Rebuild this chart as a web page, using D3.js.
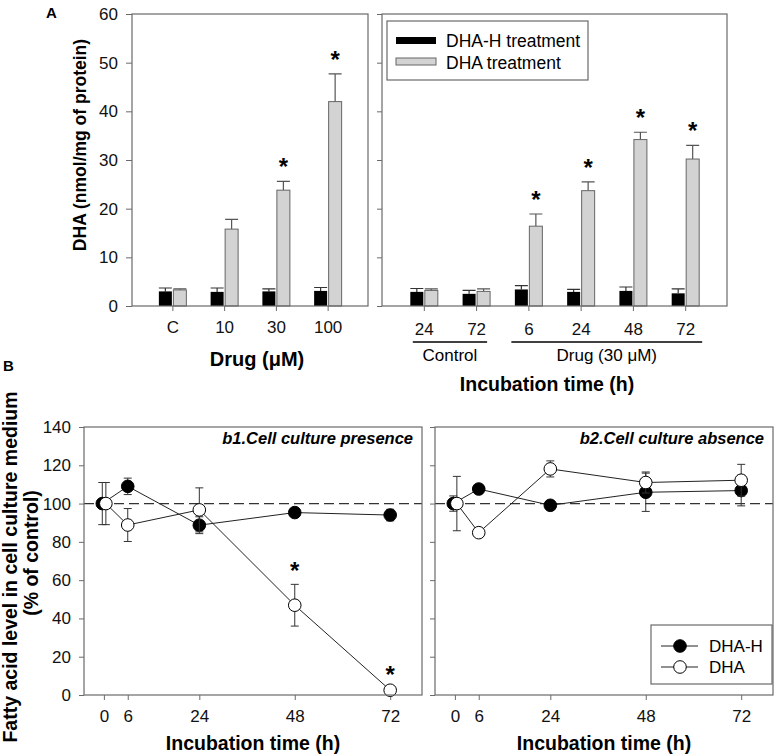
<!DOCTYPE html>
<html>
<head>
<meta charset="utf-8">
<script src="https://cdn.jsdelivr.net/npm/d3@7"></script>
<style>
  body { margin: 0; background: #fff; }
  text { font-family: "Liberation Sans", Arial, sans-serif; }
</style>
</head>
<body>
<div id="chart"></div>
<script>
// panel A, left: dose
const doseLabels = ["C", "10", "30", "100"];
const doseDHAH = [3.0, 2.9, 3.0, 3.1];
const doseDHAHErr = [0.7, 0.8, 0.5, 0.7];
const doseDHA = [3.3, 15.8, 23.8, 42.0];
const doseDHAErr = [0.2, 2.0, 1.8, 5.7];
const doseStar = [false, false, true, true];

// panel A, right: incubation time
const timeLabels = ["24", "72", "6", "24", "48", "72"];
const timeDHAH = [2.9, 2.5, 3.4, 2.9, 3.1, 2.6];
const timeDHAHErr = [0.7, 0.7, 0.8, 0.5, 0.8, 0.9];
const timeDHA = [3.2, 3.0, 16.4, 23.7, 34.2, 30.2];
const timeDHAErr = [0.3, 0.5, 2.5, 1.8, 1.5, 2.8];
const timeStar = [false, false, true, true, true, true];
const timeGroups = [
  { label: "Control", from: 0, to: 1 },
  { label: "Drug (30 \u03bcM)", from: 2, to: 5 }
];

// panel B
const hours = [0, 6, 24, 48, 72];
const hoursDHAH = [-0.4, 6, 24, 48, 72];   // points at 0 h are drawn slightly apart
const hoursDHA = [0.5, 6, 24, 48, 72];
const b1DHAH = [100, 109.0, 88.7, 95.3, 94.0];
const b1DHAHErr = [11, 4.3, 4.4, 1.2, 3.0];
const b1DHA = [100, 88.8, 96.7, 46.9, 2.5];
const b1DHAErr = [11, 8.6, 11.5, 10.9, 1.0];
const b1Star = [false, false, false, true, true];
const b2DHAH = [100, 107.6, 99.1, 105.9, 106.8];
const b2DHAHErr = [4, 1, 1, 10, 8];
const b2DHA = [100, 84.8, 118.1, 111.0, 112.2];
const b2DHAErr = [14.2, 1, 4.2, 5.5, 8.3];
const b2Star = [false, false, false, false, false];

const w = 777, h = 755;
const frameColor = "#6a6a6a";

const svg = d3.select("#chart").append("svg")
  .attr("width", w).attr("height", h);

const styleAxis = (g, size) => {
  g.select(".domain").remove();
  g.selectAll(".tick line").attr("stroke", frameColor);
  g.selectAll(".tick text").attr("font-size", size)
    .attr("font-family", "'Liberation Sans', Arial, sans-serif").attr("fill", "#111");
};

const frame = (x0, x1, y0, y1) => {
  svg.append("rect").attr("x", x0).attr("y", y0)
    .attr("width", x1 - x0).attr("height", y1 - y0)
    .attr("fill", "none").attr("stroke", frameColor).attr("stroke-width", 1.2);
};

// ---------- panel A ----------
const aTop = 14, aBottom = 306;
const yA = d3.scaleLinear().domain([0, 60]).range([aBottom, aTop]);
const bw = 13;

const drawBars = (x, n, dhah, dhahErr, dha, dhaErr, star) => {
  const idx = d3.range(n);
  const g = svg.append("g");
  // error bars (upward only)
  const err = (vals, errs, dx, col) => {
    g.selectAll(null).data(idx).enter().append("path")
      .attr("d", i => {
        const cx = x(i) + dx, yt = yA(vals[i] + errs[i]);
        return `M${cx},${yA(vals[i])}V${yt}M${cx - bw / 2},${yt}H${cx + bw / 2}`;
      })
      .attr("stroke", col).attr("stroke-width", 1.2).attr("fill", "none");
  };
  err(dhah, dhahErr, -7, "#333");
  err(dha, dhaErr, 7.5, "#555");
  g.selectAll(null).data(idx).enter().append("rect")
    .attr("x", i => x(i) - 13.5).attr("width", bw)
    .attr("y", i => yA(dhah[i])).attr("height", i => yA(0) - yA(dhah[i]))
    .attr("fill", "#000");
  g.selectAll(null).data(idx).enter().append("rect")
    .attr("x", i => x(i) + 1).attr("width", bw)
    .attr("y", i => yA(dha[i])).attr("height", i => yA(0) - yA(dha[i]))
    .attr("fill", "#d3d3d3").attr("stroke", "#666").attr("stroke-width", 1);
  g.selectAll(null).data(idx.filter(i => star[i])).enter().append("text")
    .attr("x", i => x(i) + 7.5).attr("y", i => yA(dha[i] + dhaErr[i]) - 6)
    .attr("text-anchor", "middle").attr("font-size", 24).attr("font-weight", "bold")
    .text("*");
};

// left
const xDose = d3.scalePoint().domain(d3.range(doseLabels.length)).range([132, 368]).padding(0.78);
svg.append("g").attr("transform", `translate(132,0)`)
  .call(d3.axisLeft(yA).tickValues(d3.range(0, 61, 10)).tickSize(6).tickPadding(8))
  .call(g => styleAxis(g, 17));
svg.append("g").attr("transform", `translate(0,${aBottom})`)
  .call(d3.axisBottom(xDose).tickFormat(i => doseLabels[i]).tickSize(5).tickPadding(10))
  .call(g => styleAxis(g, 17));
drawBars(xDose, doseLabels.length, doseDHAH, doseDHAHErr, doseDHA, doseDHAErr, doseStar);
frame(132, 368, aTop, aBottom);

// right
const xTime = d3.scalePoint().domain(d3.range(timeLabels.length)).range([382, 727]).padding(0.8);
svg.append("g").attr("transform", `translate(382,0)`)
  .call(d3.axisLeft(yA).tickValues(d3.range(0, 61, 10)).tickSize(5).tickFormat(""))
  .call(g => styleAxis(g, 17));
svg.append("g").attr("transform", `translate(0,${aBottom})`)
  .call(d3.axisBottom(xTime).tickFormat(i => timeLabels[i]).tickSize(5).tickPadding(12))
  .call(g => styleAxis(g, 17));
drawBars(xTime, timeLabels.length, timeDHAH, timeDHAHErr, timeDHA, timeDHAErr, timeStar);
frame(382, 727, aTop, aBottom);

timeGroups.forEach(gr => {
  const pad = gr.from === 0 ? 11 : 17;
  const xa = xTime(gr.from) - pad, xb = xTime(gr.to) + pad;
  svg.append("line").attr("x1", xa).attr("x2", xb).attr("y1", 342).attr("y2", 342)
    .attr("stroke", "#000").attr("stroke-width", 1.5);
  svg.append("text").attr("x", (xTime(gr.from) + xTime(gr.to)) / 2).attr("y", 361)
    .attr("text-anchor", "middle").attr("font-size", 17).text(gr.label);
});

// legend A
const legA = svg.append("g").attr("transform", "translate(387,21)");
legA.append("rect").attr("width", 201).attr("height", 59)
  .attr("fill", "#fff").attr("stroke", frameColor).attr("stroke-width", 1.2);
legA.append("rect").attr("x", 9).attr("y", 16).attr("width", 40).attr("height", 7).attr("fill", "#000");
legA.append("rect").attr("x", 9).attr("y", 37).attr("width", 40).attr("height", 7)
  .attr("fill", "#d3d3d3").attr("stroke", "#666");
legA.append("text").attr("x", 59).attr("y", 26).attr("font-size", 17.5).text("DHA-H treatment");
legA.append("text").attr("x", 59).attr("y", 47.5).attr("font-size", 17.5).text("DHA treatment");

// titles A
svg.append("text").attr("transform", "translate(86,145) rotate(-90)")
  .attr("text-anchor", "middle").attr("font-size", 17.5).attr("font-weight", "bold")
  .text("DHA (nmol/mg of protein)");
svg.append("text").attr("x", 257).attr("y", 366).attr("text-anchor", "middle")
  .attr("font-size", 20).attr("font-weight", "bold").text("Drug (\u03bcM)");
svg.append("text").attr("x", 547).attr("y", 391).attr("text-anchor", "middle")
  .attr("font-size", 19.5).attr("font-weight", "bold").text("Incubation time (h)");
svg.append("text").attr("x", 46).attr("y", 18).attr("font-size", 15).attr("font-weight", "bold").text("A");
svg.append("text").attr("x", 3).attr("y", 371).attr("font-size", 15).attr("font-weight", "bold").text("B");

// ---------- panel B ----------
const bTop = 427, bBottom = 695;
const yB = d3.scaleLinear().domain([0, 140]).range([bBottom, bTop]);

const drawSeries = (g, x, xs, vals, errs, filled) => {
  const line = d3.line().x((d, i) => x(xs[i])).y(d => yB(d));
  g.append("path").datum(vals).attr("d", line)
    .attr("fill", "none").attr("stroke", "#222").attr("stroke-width", 1);
  const idx = d3.range(vals.length);
  g.selectAll(null).data(idx).enter().append("path")
    .attr("d", i => {
      const cx = x(xs[i]), ya = yB(vals[i] + errs[i]), yb = yB(vals[i] - errs[i]);
      return `M${cx},${ya}V${yb}M${cx - 4},${ya}H${cx + 4}M${cx - 4},${yb}H${cx + 4}`;
    })
    .attr("stroke", "#333").attr("stroke-width", 1).attr("fill", "none");
  g.selectAll(null).data(idx).enter().append("circle")
    .attr("cx", i => x(xs[i])).attr("cy", i => yB(vals[i])).attr("r", 6.3)
    .attr("fill", filled ? "#000" : "#fff").attr("stroke", "#000").attr("stroke-width", 1);
};

const drawPanelB = (x0, x1, showLabels, title, dhah, dhahErr, dha, dhaErr, star) => {
  const x = d3.scaleLinear().domain([-5, 80]).range([x0, x1]);
  const yAxis = d3.axisLeft(yB).tickValues(d3.range(0, 141, 20)).tickSize(5).tickPadding(8);
  if (!showLabels) yAxis.tickFormat("");
  svg.append("g").attr("transform", `translate(${x0},0)`).call(yAxis).call(g => styleAxis(g, 17));
  svg.append("g").attr("transform", `translate(0,${bBottom})`)
    .call(d3.axisBottom(x).tickValues(hours).tickSize(5).tickPadding(10))
    .call(g => styleAxis(g, 17));
  const g = svg.append("g");
  g.append("line").attr("x1", x0).attr("x2", x1).attr("y1", yB(100)).attr("y2", yB(100))
    .attr("stroke", "#333").attr("stroke-width", 1.2).attr("stroke-dasharray", "10,5");
  drawSeries(g, x, hoursDHAH, dhah, dhahErr, true);
  drawSeries(g, x, hoursDHA, dha, dhaErr, false);
  g.selectAll(null).data(d3.range(hours.length).filter(i => star[i])).enter().append("text")
    .attr("x", i => x(hours[i])).attr("y", i => yB(dha[i] + dhaErr[i]) - 5)
    .attr("text-anchor", "middle").attr("font-size", 24).attr("font-weight", "bold").text("*");
  svg.append("text").attr("x", x1 - 9).attr("y", bTop + 17).attr("text-anchor", "end")
    .attr("font-size", 16.5).attr("font-weight", "bold").attr("font-style", "italic").text(title);
  svg.append("text").attr("x", (x0 + x1) / 2).attr("y", 750).attr("text-anchor", "middle")
    .attr("font-size", 19.5).attr("font-weight", "bold").text("Incubation time (h)");
  frame(x0, x1, bTop, bBottom);
};

drawPanelB(84, 422, true, "b1.Cell culture presence", b1DHAH, b1DHAHErr, b1DHA, b1DHAErr, b1Star);
drawPanelB(435, 773, false, "b2.Cell culture absence", b2DHAH, b2DHAHErr, b2DHA, b2DHAErr, b2Star);

// legend B
const legB = svg.append("g").attr("transform", "translate(651,625)");
legB.append("rect").attr("width", 121).attr("height", 59)
  .attr("fill", "#fff").attr("stroke", frameColor).attr("stroke-width", 1.2);
[["DHA-H", true], ["DHA", false]].forEach(([lab, filled], i) => {
  const yy = 21 + i * 21;
  legB.append("line").attr("x1", 10).attr("x2", 47).attr("y1", yy).attr("y2", yy)
    .attr("stroke", "#222");
  legB.append("circle").attr("cx", 29).attr("cy", yy).attr("r", 6.3)
    .attr("fill", filled ? "#000" : "#fff").attr("stroke", "#000");
  legB.append("text").attr("x", 58).attr("y", yy + 6).attr("font-size", 17).text(lab);
});

// y title B
svg.append("text").attr("transform", "translate(17,567) rotate(-90)")
  .attr("text-anchor", "middle").attr("font-size", 19.5).attr("font-weight", "bold")
  .text("Fatty acid level in cell culture medium");
svg.append("text").attr("transform", "translate(38,553) rotate(-90)")
  .attr("text-anchor", "middle").attr("font-size", 19.5).attr("font-weight", "bold")
  .text("(% of control)");
</script>
</body>
</html>
